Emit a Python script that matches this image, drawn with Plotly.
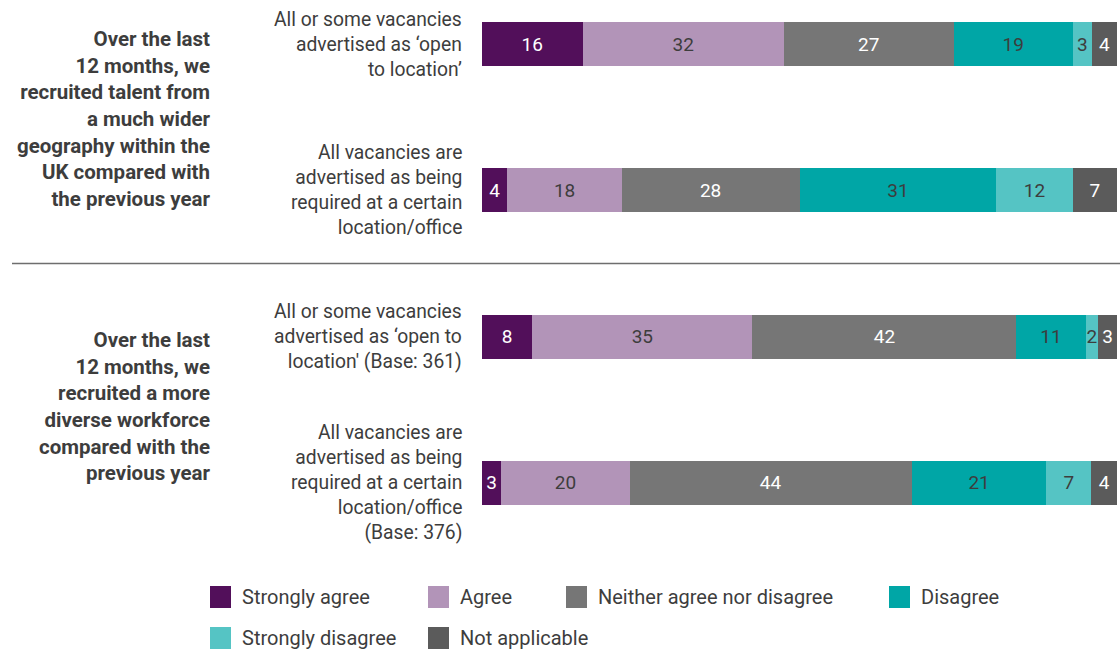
import plotly.graph_objects as go

# Response categories and their colours
responses = ["Strongly agree", "Agree", "Neither agree nor disagree",
             "Disagree", "Strongly disagree", "Not applicable"]
colors = ["#520F5A", "#B294B8", "#767676", "#00A6A6", "#55C4C4", "#5B5B5B"]
label_colors = ["#FFFFFF", "#3D3D3D", "#FFFFFF", "#3D3D3D", "#3D3D3D", "#FFFFFF"]

# Rows, top to bottom
row_labels = [
    "All or some vacancies<br>advertised as ‘open<br>to location’",
    "All vacancies are<br>advertised as being<br>required at a certain<br>location/office",
    "All or some vacancies<br>advertised as ‘open to<br>location' (Base: 361)",
    "All vacancies are<br>advertised as being<br>required at a certain<br>location/office<br>(Base: 376)",
]
group_labels = [
    "Over the last<br>12 months, we<br>recruited talent from<br>a much wider<br>geography within the<br>UK compared with<br>the previous year",
    "Over the last<br>12 months, we<br>recruited a more<br>diverse workforce<br>compared with the<br>previous year",
]

# Percentages per response, one value per row
strongly_agree = [16, 4, 8, 3]
agree = [32, 18, 35, 20]
neither = [27, 28, 42, 44]
disagree = [19, 31, 11, 21]
strongly_disagree = [3, 12, 2, 7]
not_applicable = [4, 7, 3, 4]
series = [strongly_agree, agree, neither, disagree, strongly_disagree, not_applicable]

W, H = 1120, 650
M_L, M_R, M_T, M_B = 482, 3, 10, 130
PW, PH = W - M_L - M_R, H - M_T - M_B
FONT = "Roboto"
TEXT = "#3D3D3D"


def px_x(px):
    return (px - M_L) / PW


def px_y(py):
    return (H - M_B - py) / PH


rows = list(range(len(row_labels)))

fig = go.Figure()
for name, vals, col, tcol in zip(responses, series, colors, label_colors):
    fig.add_trace(go.Bar(
        y=rows, x=vals, name=name, orientation="h",
        marker=dict(color=col, line=dict(width=0)),
        width=0.30,
        text=[str(v) for v in vals], texttemplate="%{text}",
        textposition="inside", insidetextanchor="middle",
        textangle=0, constraintext="none",
        textfont=dict(family=FONT, size=19, color=tcol),
        showlegend=False, hoverinfo="skip",
    ))

annotations = []
# Row labels beside each bar
for i, lab in enumerate(row_labels):
    annotations.append(dict(
        x=px_x(464), xref="paper", y=i, yref="y", text=lab,
        xanchor="right", yanchor="middle", align="right", showarrow=False,
        font=dict(family=FONT, size=19.3, color=TEXT),
    ))
# Group headings
for yc, lab in zip([0.51, 2.475], group_labels):
    annotations.append(dict(
        x=px_x(213), xref="paper", y=yc, yref="y", text="<b>" + lab + "</b>",
        xanchor="right", yanchor="middle", align="right", showarrow=False,
        font=dict(family=FONT, size=20.5, color=TEXT),
    ))

shapes = [dict(
    type="line", xref="paper", yref="y",
    x0=px_x(12), x1=px_x(W), y0=1.5, y1=1.5,
    line=dict(color="#6E6E6E", width=1.5),
)]

# Key below the chart
key_pos = [(210, 597), (428, 597), (566, 597), (889, 597), (210, 638), (428, 638)]
for name, col, (kx, ky) in zip(responses, colors, key_pos):
    shapes.append(dict(
        type="rect", xref="paper", yref="paper",
        x0=px_x(kx), x1=px_x(kx + 21), y0=px_y(ky - 11), y1=px_y(ky + 11),
        fillcolor=col, line=dict(width=0),
    ))
    annotations.append(dict(
        x=px_x(kx + 30), xref="paper", y=px_y(ky), yref="paper", text=name,
        xanchor="left", yanchor="middle", showarrow=False,
        font=dict(family=FONT, size=20, color=TEXT),
    ))

top = -(44 - M_T) / 146.33
bottom = top + PH / 146.33

fig.update_layout(
    width=W, height=H,
    margin=dict(l=M_L, r=M_R, t=M_T, b=M_B),
    barmode="stack", barnorm="percent",
    paper_bgcolor="white", plot_bgcolor="white",
    xaxis=dict(range=[0, 100], visible=False, fixedrange=True),
    yaxis=dict(range=[bottom, top], visible=False, fixedrange=True),
    annotations=annotations, shapes=shapes,
    font=dict(family=FONT),
)

fig.write_html("out.html")
